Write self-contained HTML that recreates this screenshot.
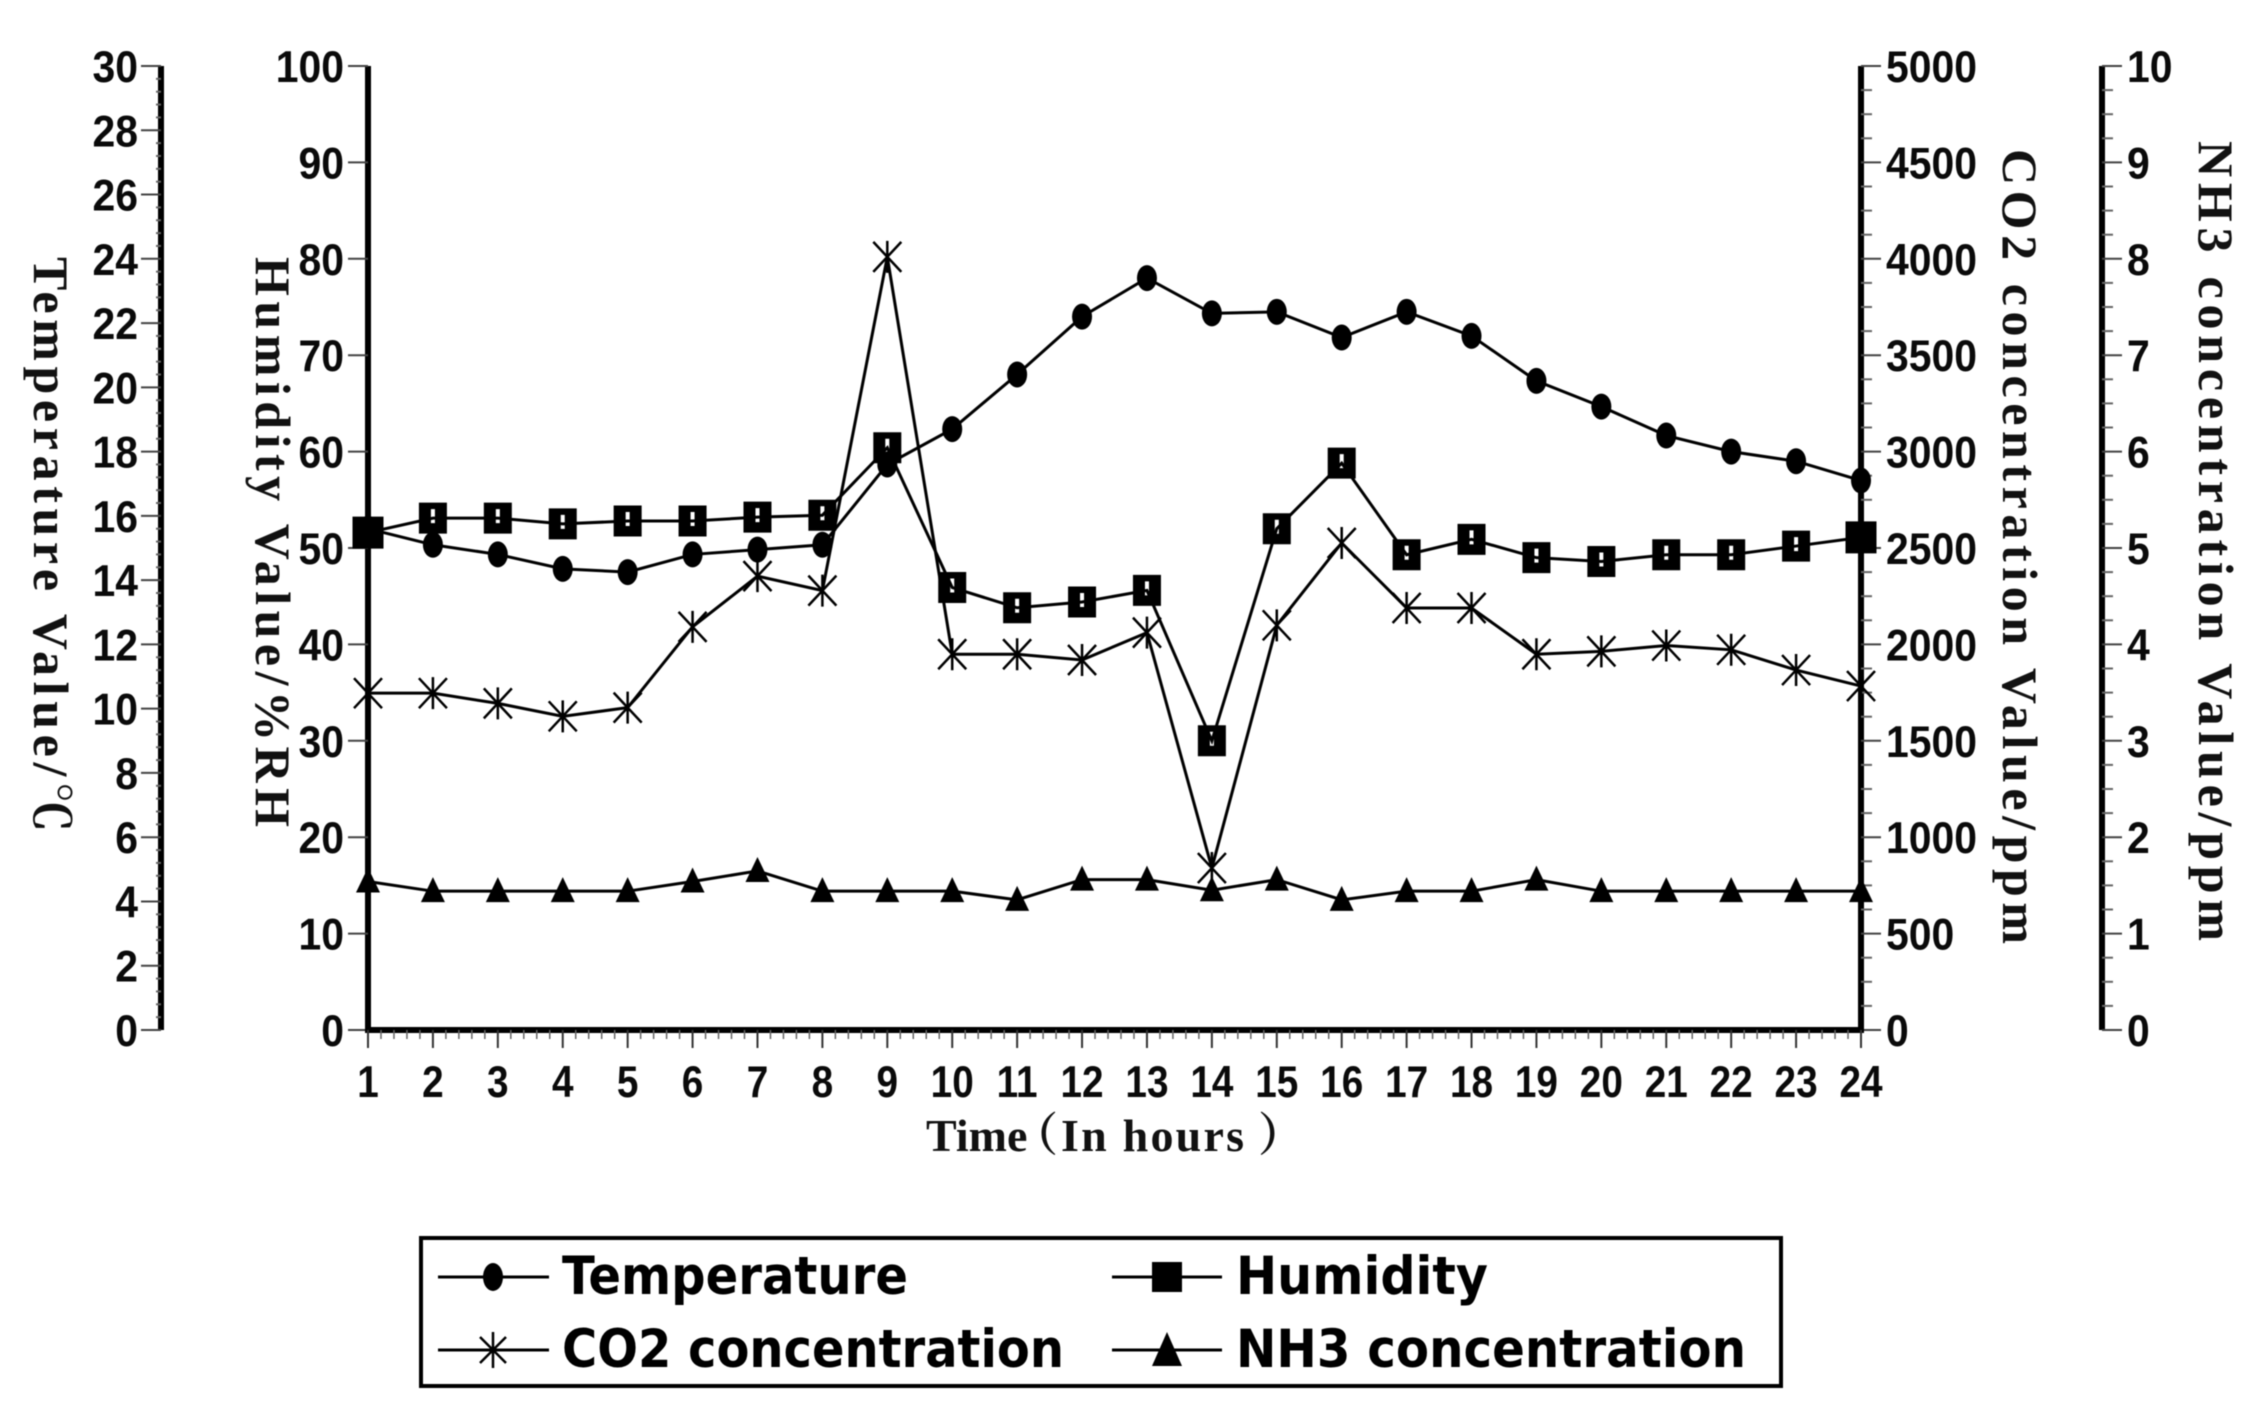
<!DOCTYPE html>
<html lang="en">
<head>
<meta charset="utf-8">
<title>Environmental monitoring over 24 hours</title>
<style>
  html, body { margin: 0; padding: 0; background: #fff; }
  svg { display: block; }
  .tick { font-family: "Liberation Sans", sans-serif; font-weight: 700; font-size: 44px; fill: #0a0a0a; }
  .title { font-family: "Liberation Serif", "Noto Serif CJK SC", serif; font-weight: 700; font-size: 50px; fill: #111; }
  .legend-text { font-family: "DejaVu Sans", "Liberation Sans", sans-serif; font-weight: 700; font-size: 53px; fill: #000; }
</style>
</head>
<body>
<svg id="chart" xmlns="http://www.w3.org/2000/svg" width="2264" height="1402" viewBox="0 0 2264 1402">
  <rect width="2264" height="1402" fill="#fff"/>
  <g id="root" style="filter:blur(0.6px)"></g>

  <g style="filter:blur(0.5px)">
    <text class="title" transform="translate(34,257) rotate(90)" textLength="575" lengthAdjust="spacing">Temperature Value/℃</text>
    <text class="title" transform="translate(256,257) rotate(90)" textLength="570" lengthAdjust="spacing">Humidity Value/%RH</text>
    <text class="title" transform="translate(2003,149) rotate(90)" textLength="795" lengthAdjust="spacing">CO2 concentration Value/ppm</text>
    <text class="title" transform="translate(2199,141) rotate(90)" textLength="800" lengthAdjust="spacing">NH3 concentration Value/ppm</text>
    <text class="title" y="1151" style="font-size:46px"><tspan x="926">Time</tspan><tspan x="1012">（</tspan><tspan x="1061" textLength="183" lengthAdjust="spacing">In hours</tspan><tspan x="1258">）</tspan></text>
  </g>

  <g style="filter:blur(0.4px)">
    <rect x="421" y="1238" width="1360" height="148" fill="#fff" stroke="#000" stroke-width="4"/>
    <g>
      <line x1="438" y1="1277" x2="549" y2="1277" stroke="#000" stroke-width="3"/>
      <ellipse cx="493" cy="1277" rx="10" ry="14" fill="#000"/>
      <text class="legend-text" x="562" y="1294" textLength="346" lengthAdjust="spacingAndGlyphs">Temperature</text>
    </g>
    <g>
      <line x1="1112" y1="1277" x2="1222" y2="1277" stroke="#000" stroke-width="3"/>
      <rect x="1152" y="1262" width="30" height="30" fill="#000"/>
      <text class="legend-text" x="1236" y="1294" textLength="252" lengthAdjust="spacingAndGlyphs">Humidity</text>
    </g>
    <g>
      <line x1="438" y1="1350" x2="549" y2="1350" stroke="#000" stroke-width="3"/>
      <path d="M493 1332V1368M480 1337L506 1363M506 1337L480 1363" stroke="#000" stroke-width="2.5" fill="none"/>
      <text class="legend-text" x="562" y="1367" textLength="502" lengthAdjust="spacingAndGlyphs">CO2 concentration</text>
    </g>
    <g>
      <line x1="1112" y1="1350" x2="1222" y2="1350" stroke="#000" stroke-width="3"/>
      <path d="M1167 1332L1182 1366H1152Z" fill="#000"/>
      <text class="legend-text" x="1236" y="1367" textLength="510" lengthAdjust="spacingAndGlyphs">NH3 concentration</text>
    </g>
  </g>
</svg>

<script>
// ---- chart data ----
const hours = [1,2,3,4,5,6,7,8,9,10,11,12,13,14,15,16,17,18,19,20,21,22,23,24];
const temperature = [15.6,15.1,14.8,14.35,14.25,14.8,14.95,15.1,17.6,18.7,20.4,22.2,23.4,22.3,22.35,21.55,22.35,21.6,20.2,19.4,18.5,18.0,17.7,17.1];
const humidity = [51.6,53.1,53.1,52.5,52.8,52.8,53.2,53.4,60.4,45.9,43.8,44.4,45.6,30,52,58.8,49.3,50.9,49,48.6,49.3,49.3,50.2,51.1];
const co2 = [1747,1747,1694,1627,1672,2091,2354,2279,4010,1949,1949,1919,2061,840,2099,2526,2189,2189,1949,1964,1994,1972,1867,1784];
const nh3 = [1.54,1.44,1.44,1.44,1.44,1.54,1.65,1.44,1.44,1.44,1.35,1.56,1.56,1.45,1.56,1.35,1.44,1.44,1.56,1.44,1.44,1.44,1.44,1.44];
const temperatureTicks = [0,2,4,6,8,10,12,14,16,18,20,22,24,26,28,30];
const humidityTicks = [0,10,20,30,40,50,60,70,80,90,100];
const co2Ticks = [0,500,1000,1500,2000,2500,3000,3500,4000,4500,5000];
const nh3Ticks = [0,1,2,3,4,5,6,7,8,9,10];

// ---- scales ----
const PLOT = { left: 368, right: 1861, top: 66, bottom: 1030 };
const AXIS_X = { temperature: 161, humidity: 368, co2: 1861, nh3: 2102 };
function xScale(h) {
  return PLOT.left + (h - hours[0]) * (PLOT.right - PLOT.left) / (hours[hours.length - 1] - hours[0]);
}
function yScale(v, max) {
  return PLOT.bottom - v * (PLOT.bottom - PLOT.top) / max;
}
const tMax = temperatureTicks[temperatureTicks.length - 1];
const hMax = humidityTicks[humidityTicks.length - 1];
const cMax = co2Ticks[co2Ticks.length - 1];
const nMax = nh3Ticks[nh3Ticks.length - 1];

const NS = 'http://www.w3.org/2000/svg';
const root = document.getElementById('root');
function mk(tag, attrs, parent) {
  const el = document.createElementNS(NS, tag);
  for (const k in attrs) el.setAttribute(k, attrs[k]);
  (parent || root).appendChild(el);
  return el;
}
function label(parent, str, x, y, anchor, sx, sy) {
  const t = mk('text', { 'class': 'tick', 'text-anchor': anchor, transform: 'translate(' + x + ',' + y + ') scale(' + sx + ',' + sy + ')' }, parent);
  t.textContent = str;
  return t;
}

// ---- vertical axes ----
function drawAxis(name, axisX, ticks, max, dir, subdivisions, minorLen, labelOffset, anchor) {
  const g = mk('g', {});
  
  
  const spine = mk('line', { x1: axisX, x2: axisX, y1: PLOT.top, y2: PLOT.bottom, stroke: '#000', 'stroke-width': 6 }, g);
  
  
  ticks.forEach(function (v, i) {
    const y = yScale(v, max);
    const major = mk('line', { x1: axisX, x2: axisX + dir * 20, y1: y, y2: y, stroke: '#444', 'stroke-width': 2 }, g);
    
    
    const txt = label(g, String(v), axisX + dir * labelOffset, y + 16, anchor, 0.93, 1.02);
    
    
    if (i < ticks.length - 1) {
      for (let s = 1; s < subdivisions; s++) {
        const vm = v + (ticks[i + 1] - v) * s / subdivisions;
        const ym = yScale(vm, max);
        const minor = mk('line', { x1: axisX, x2: axisX + dir * minorLen, y1: ym, y2: ym, stroke: '#666', 'stroke-width': 2 }, g);
        
        
      }
    }
  });
}
drawAxis('temperature', AXIS_X.temperature, temperatureTicks, tMax, -1, 5, 5, 23, 'end');
drawAxis('humidity', AXIS_X.humidity, humidityTicks, hMax, -1, 1, 0, 24, 'end');
drawAxis('co2', AXIS_X.co2, co2Ticks, cMax, 1, 4, 11, 25, 'start');
drawAxis('nh3', AXIS_X.nh3, nh3Ticks, nMax, 1, 4, 11, 25, 'start');

// ---- x axis ----
const xAxis = mk('g', {});


const xSpine = mk('line', { x1: PLOT.left - 3, x2: PLOT.right + 3, y1: PLOT.bottom, y2: PLOT.bottom, stroke: '#000', 'stroke-width': 6 }, xAxis);


hours.forEach(function (h, i) {
  const x = xScale(h);
  const major = mk('line', { x1: x, x2: x, y1: PLOT.bottom, y2: PLOT.bottom + 18, stroke: '#333', 'stroke-width': 2 }, xAxis);
  
  
  const txt = label(xAxis, String(h), x, 1097, 'middle', 0.88, 1.02);
  
  
  if (i < hours.length - 1) {
    for (let s = 1; s < 5; s++) {
      const xm = xScale(h + s / 5);
      const minor = mk('line', { x1: xm, x2: xm, y1: PLOT.bottom, y2: PLOT.bottom + 9, stroke: '#666', 'stroke-width': 1.5 }, xAxis);
      
      
    }
  }
});

// ---- series ----
function drawSeries(name, values, max, marker) {
  const g = mk('g', {});
  
  
  const pts = values.map(function (v, i) { return xScale(hours[i]) + ',' + yScale(v, max); }).join(' ');
  const line = mk('polyline', { points: pts, fill: 'none', stroke: '#000', 'stroke-width': 3 }, g);
  
  
  values.forEach(function (v, i) {
    const m = marker(g, xScale(hours[i]), yScale(v, max), i);
    
    
  });
}
function circleMarker(g, x, y) {
  return mk('ellipse', { cx: x, cy: y, rx: 10, ry: 13, fill: '#000' }, g);
}
function squareMarker(g, x, y, i) {
  const big = i === 0 || i === humidity.length - 1;
  const w = big ? 31 : 28, h = big ? 32 : 31;
  let d = 'M' + (x - w / 2) + ' ' + (y - h / 2) + 'h' + w + 'v' + h + 'h' + (-w) + 'Z';
  if (!big) {
    d += 'M' + (x - 2) + ' ' + (y - 9) + 'h4v14h-4Z';
  }
  return mk('path', { d: d, fill: '#000', 'fill-rule': 'evenodd' }, g);
}
function starMarker(g, x, y) {
  const d = 'M' + x + ' ' + (y - 16) + 'V' + (y + 16) +
            'M' + (x - 14) + ' ' + (y - 15) + 'L' + (x + 14) + ' ' + (y + 15) +
            'M' + (x + 14) + ' ' + (y - 15) + 'L' + (x - 14) + ' ' + (y + 15);
  return mk('path', { d: d, stroke: '#000', 'stroke-width': 2.5, fill: 'none' }, g);
}
function triangleMarker(g, x, y) {
  const d = 'M' + x + ' ' + (y - 14) + 'L' + (x + 12) + ' ' + (y + 11) + 'H' + (x - 12) + 'Z';
  return mk('path', { d: d, fill: '#000' }, g);
}
drawSeries('co2', co2, cMax, starMarker);
drawSeries('nh3', nh3, nMax, triangleMarker);
drawSeries('temperature', temperature, tMax, circleMarker);
drawSeries('humidity', humidity, hMax, squareMarker);
</script>
</body>
</html>
